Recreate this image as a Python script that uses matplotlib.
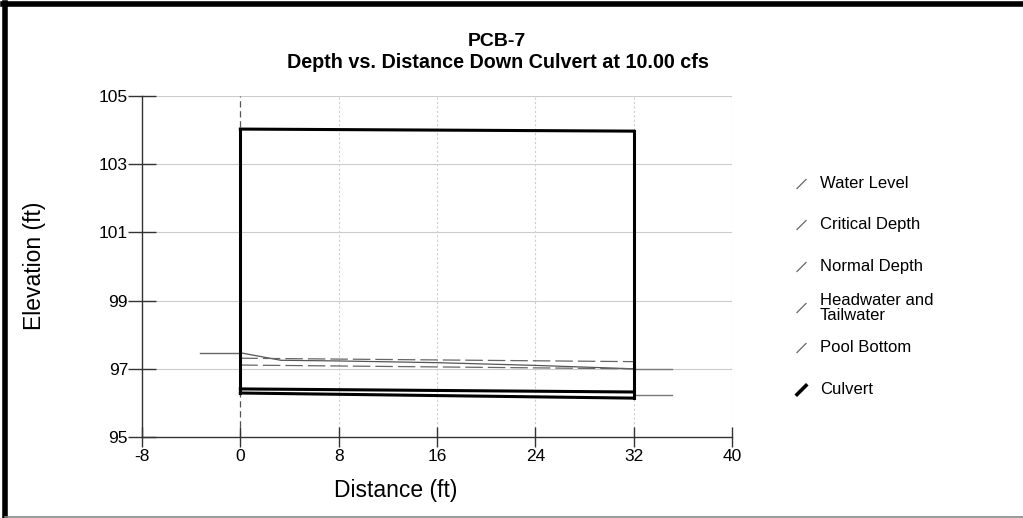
import matplotlib
matplotlib.use("Agg")
import matplotlib.pyplot as plt
from matplotlib.lines import Line2D

plt.rcParams['font.family'] = ['Liberation Sans', 'DejaVu Sans']

# ---- data (ft) ----
x_ticks = [-8, 0, 8, 16, 24, 32, 40]
x_tick_labels = ["-8", "0", "8", "16", "24", "32", "40"]
y_ticks = [95, 97, 99, 101, 103, 105]
y_tick_labels = ["95", "97", "99", "101", "103", "105"]

culvert_x = [0, 32]
culvert_top = [104.03, 103.97]
culvert_inner = [96.41, 96.32]
culvert_invert = [96.29, 96.14]

water_x = [0, 3.3, 8, 16, 24, 28, 32]
water_y = [97.47, 97.25, 97.23, 97.18, 97.10, 97.05, 97.00]

critical_x = [0, 32]
critical_y = [97.31, 97.21]

normal_x = [0, 32]
normal_y = [97.11, 97.00]

headwater_x = [-3.3, 0]
headwater_y = [97.47, 97.47]
tailwater_x = [32, 35.1]
tailwater_y = [97.00, 97.00]

pool_x = [32, 35.1]
pool_y = [96.23, 96.23]

legend_labels = ["Water Level", "Critical Depth", "Normal Depth",
                 "Headwater and\nTailwater", "Pool Bottom", "Culvert"]

# ---- figure ----
W, H = 1023, 518
fig = plt.figure(figsize=(W / 100, H / 100), dpi=100)
ax = fig.add_axes([142 / W, 1 - 437 / H, (732 - 142) / W, (437 - 96) / H])

ax.set_xlim(-8, 40)
ax.set_ylim(95, 105)

# grid
for yv in y_ticks[1:]:
    ax.axhline(yv, color='#cccccc', lw=0.8, zorder=0)
for xv in x_ticks[2:]:
    ax.axvline(xv, color='#cfcfcf', lw=0.8, ls=(0, (2, 2)), zorder=0)
ax.axvline(0, color='#555555', lw=0.9, ls=(0, (5, 3)), zorder=1)

# water surfaces
ax.plot(water_x, water_y, color='#555555', lw=0.9, zorder=3)
ax.plot(critical_x, critical_y, color='#666666', lw=0.9, ls=(0, (14, 4)), zorder=3)
ax.plot(normal_x, normal_y, color='#666666', lw=0.9, ls=(0, (14, 4)), zorder=3)
ax.plot(headwater_x, headwater_y, color='#666666', lw=1.0, zorder=3)
ax.plot(tailwater_x, tailwater_y, color='#777777', lw=1.0, zorder=3)
ax.plot(pool_x, pool_y, color='#777777', lw=1.0, zorder=3)

# culvert barrel
ax.plot(culvert_x, culvert_top, color='black', lw=2.2, zorder=4, solid_capstyle='projecting')
ax.plot(culvert_x, culvert_inner, color='black', lw=2.2, zorder=4)
ax.plot(culvert_x, culvert_invert, color='black', lw=2.2, zorder=4)
ax.plot([culvert_x[0]] * 2, [culvert_invert[0], culvert_top[0]], color='black', lw=2.2, zorder=4,
        solid_capstyle='projecting')
ax.plot([culvert_x[1]] * 2, [culvert_invert[1], culvert_top[1]], color='black', lw=2.2, zorder=4,
        solid_capstyle='projecting')

# axes styling
for s in ['top', 'right']:
    ax.spines[s].set_visible(False)
for s in ['left', 'bottom']:
    ax.spines[s].set_color('#333333')
    ax.spines[s].set_linewidth(1.0)
ax.set_xticks(x_ticks)
ax.set_xticklabels(x_tick_labels)
ax.set_yticks(y_ticks)
ax.set_yticklabels(y_tick_labels)
ax.tick_params(axis='both', direction='inout', width=1.0, color='#333333',
               labelsize=12.5, labelcolor='black')
ax.tick_params(axis='x', length=15, pad=1)
ax.tick_params(axis='y', length=20, pad=0)

# axis titles
fig.text(396 / W, 1 - 491 / H, "Distance (ft)", ha='center', va='center', fontsize=16.5)
fig.text(35 / W, 1 - 266 / H, "Elevation (ft)", ha='center', va='center', fontsize=16.5,
         rotation=90)

# title
fig.text(497 / W, 1 - 41 / H, "PCB-7", ha='center', va='center', fontsize=14, fontweight='bold')
fig.text(498 / W, 1 - 62 / H, "Depth vs. Distance Down Culvert at 10.00 cfs",
         ha='center', va='center', fontsize=14.2, fontweight='bold')

# legend
legend_y = [184, 225, 267, 308, 348, 390]
for i, (lab, yc) in enumerate(zip(legend_labels, legend_y)):
    last = i == len(legend_labels) - 1
    fig.add_artist(Line2D([797 / W, 806 / W], [1 - (yc + 4.5) / H, 1 - (yc - 4.5) / H],
                          transform=fig.transFigure,
                          color='black' if last else '#666666',
                          lw=2.6 if last else 0.9))
    fig.text(820 / W, 1 - yc / H, lab, ha='left', va='center', fontsize=12, linespacing=0.95)

# page frame
fig.add_artist(Line2D([5 / W, 5 / W], [0, 1 - 3 / H], transform=fig.transFigure, color='black', lw=4))
fig.add_artist(Line2D([3 / W, 1], [1 - 4 / H, 1 - 4 / H], transform=fig.transFigure, color='black', lw=4))
fig.add_artist(Line2D([5 / W, 1], [1 / H, 1 / H], transform=fig.transFigure, color='#888888', lw=1.2))

fig.savefig("out.png", dpi=100)
